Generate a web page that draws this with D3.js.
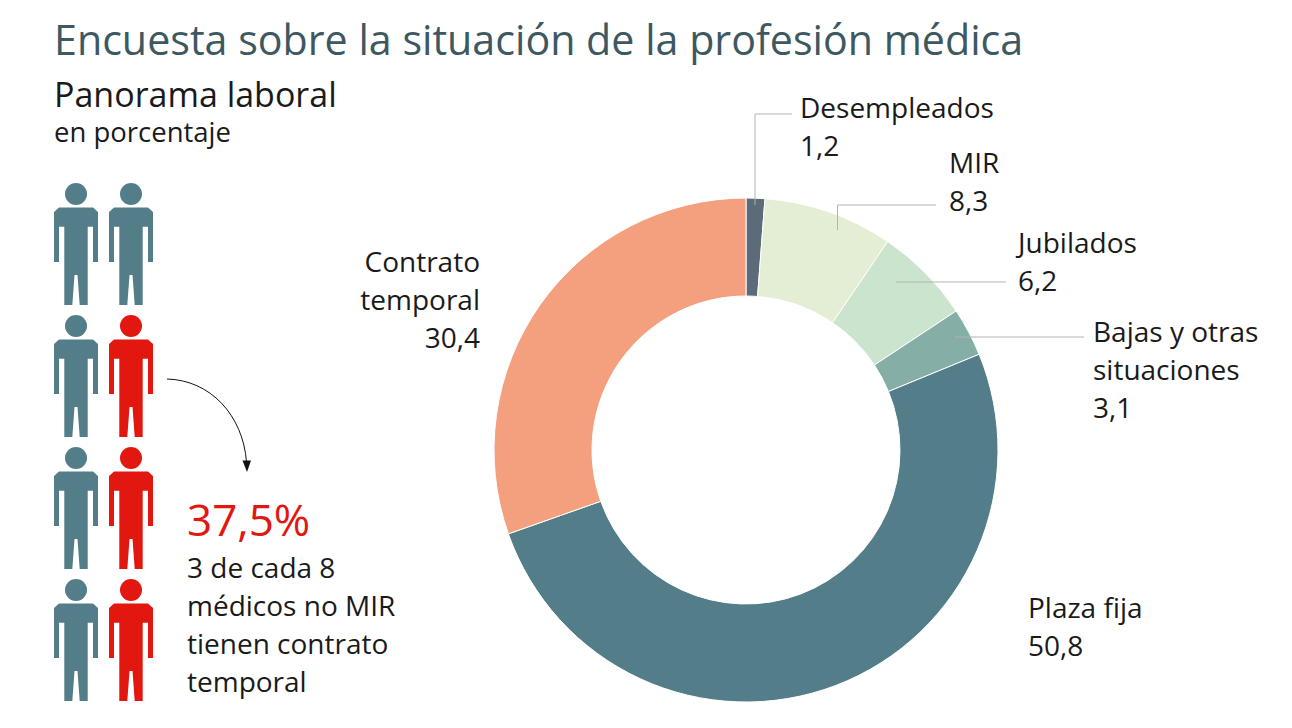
<!DOCTYPE html>
<html lang="es">
<head>
<meta charset="utf-8">
<title>Encuesta sobre la situación de la profesión médica</title>
<script src="https://cdnjs.cloudflare.com/ajax/libs/d3/7.8.5/d3.min.js"></script>
<style>
  html, body { margin: 0; background: #fff; }
  svg { display: block; }
  text { font-family: "Open Sans", "Noto Sans", sans-serif; fill: #1a1a1a; }
</style>
</head>
<body>
<svg id="chart" width="1292" height="728"></svg>
<script>
var categories = ["Desempleados", "MIR", "Jubilados", "Bajas y otras situaciones", "Plaza fija", "Contrato temporal"];
var values = [1.2, 8.3, 6.2, 3.1, 50.8, 30.4];
var sliceColors = ["#5b6b78", "#e4eed5", "#cbe4cd", "#84aea6", "#527d89", "#f4a07f"];

// one row per line of people, 1 = red
var peopleRows = [[0, 0], [0, 1], [0, 1], [0, 1]];

var svg = d3.select("#chart");
var fmt = d3.format(".1f");
var num = function (v) { return fmt(v).replace(".", ","); };

// donut
var cx = 746, cy = 450;
var pie = d3.pie().sort(null)(values);
var arc = d3.arc().innerRadius(154).outerRadius(252);
var donut = svg.append("g").attr("transform", "translate(" + cx + "," + cy + ")");
donut.selectAll("path")
  .data(pie)
  .enter()
  .append("path")
    .attr("d", arc)
    .attr("fill", function (d, i) { return sliceColors[i]; })
    .attr("stroke", "#fff")
    .attr("stroke-width", 1);

// leader lines
var leaders = [
  "M755,205V114H792",
  "M837.5,230V205H936",
  "M896,282H1006",
  "M955,337H1084"
];
svg.selectAll("path.leader")
  .data(leaders)
  .enter()
  .append("path")
    .attr("class", "leader")
    .attr("d", function (d) { return d; })
    .attr("fill", "none")
    .attr("stroke", "#b3b3b3")
    .attr("stroke-width", 1);

// slice labels: lines come from the category name, last line is the value
var labelLines = [
  [categories[0]],
  [categories[1]],
  [categories[2]],
  ["Bajas y otras", "situaciones"],
  [categories[4]],
  ["Contrato", "temporal"]
];
var labelPos = [
  { x: 800, y: 118, anchor: "start" },
  { x: 949, y: 173, anchor: "start" },
  { x: 1018, y: 253, anchor: "start" },
  { x: 1093, y: 342, anchor: "start" },
  { x: 1028, y: 618, anchor: "start" },
  { x: 480, y: 272, anchor: "end" }
];
labelLines.forEach(function (lines, i) {
  var p = labelPos[i];
  var t = svg.append("text")
    .attr("text-anchor", p.anchor)
    .style("font-size", "28px");
  lines.concat([num(values[i])]).forEach(function (s, j) {
    t.append("tspan").attr("x", p.x).attr("y", p.y + j * 38).text(s);
  });
});

// people
var personPath = "M-17,24.5H17L22,29V79H17V43.7H11.7V122H3.7L1.5,92H-1.5L-3.7,122H-11.7V43.7H-17V79H-22V29Z";
var colX = d3.scaleLinear().domain([0, 1]).range([76, 131]);
var rowY = d3.scaleLinear().domain([0, 3]).range([183, 579]);
peopleRows.forEach(function (row, r) {
  row.forEach(function (red, c) {
    var g = svg.append("g")
      .attr("transform", "translate(" + colX(c) + "," + rowY(r) + ")")
      .attr("fill", red ? "#e2170f" : "#527d89");
    g.append("circle").attr("cy", 11).attr("r", 11);
    g.append("path").attr("d", personPath);
  });
});

// arrow
svg.append("path")
  .attr("d", "M167,379C210,380 243,415 246.5,462")
  .attr("fill", "none")
  .attr("stroke", "#111")
  .attr("stroke-width", 1);
svg.append("path")
  .attr("d", "M242.5,460.5L251,460.5L247,472Z")
  .attr("fill", "#111");

// headings
svg.append("text").attr("x", 54).attr("y", 55)
  .style("font-size", "41.2px").style("fill", "#3e5862")
  .text("Encuesta sobre la situación de la profesión médica");
svg.append("text").attr("x", 54).attr("y", 107)
  .style("font-size", "34px")
  .text("Panorama laboral");
svg.append("text").attr("x", 54).attr("y", 142)
  .style("font-size", "27.5px")
  .text("en porcentaje");

// callout
svg.append("text").attr("x", 187).attr("y", 536)
  .style("font-size", "44px").style("fill", "#e2170f")
  .text("37,5%");
var callout = ["3 de cada 8", "médicos no MIR", "tienen contrato", "temporal"];
svg.append("g").selectAll("text")
  .data(callout)
  .enter()
  .append("text")
    .attr("x", 187)
    .attr("y", function (d, i) { return 578 + i * 38; })
    .style("font-size", "28px")
    .text(function (d) { return d; });
</script>
</body>
</html>
